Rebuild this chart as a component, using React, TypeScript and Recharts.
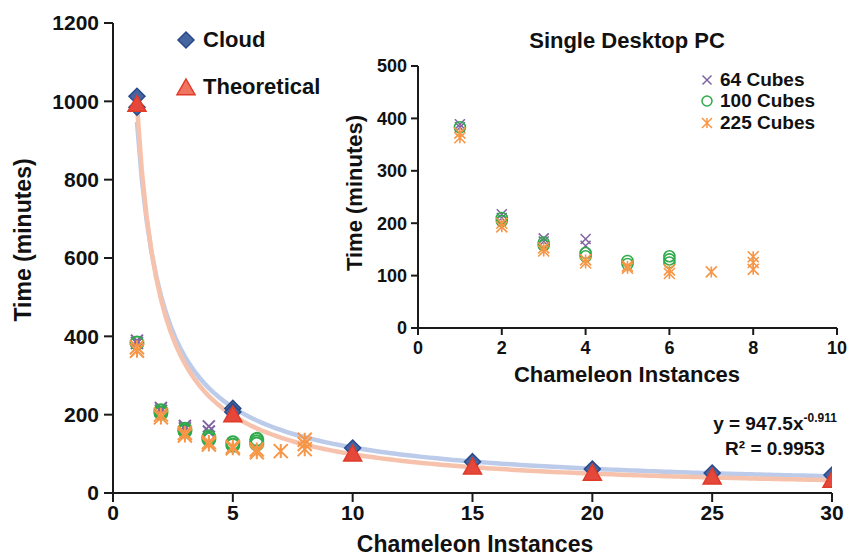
import React from "react";
import { ScatterChart, Scatter, XAxis, YAxis, Legend, Label } from "recharts";

const FONT = "'Liberation Sans', Arial, Helvetica, sans-serif";

// cloud runs (main chart)
const cloud = [
  { x: 1, y: 1013 },
  { x: 1, y: 985 },
  { x: 5, y: 216 },
  { x: 5, y: 207 },
  { x: 10, y: 115 },
  { x: 15, y: 80 },
  { x: 20, y: 61 },
  { x: 25, y: 51 },
  { x: 30, y: 46 },
];
const theoretical = [
  { x: 1, y: 992 },
  { x: 5, y: 199 },
  { x: 10, y: 99 },
  { x: 15, y: 66 },
  { x: 20, y: 50 },
  { x: 25, y: 40 },
  { x: 30, y: 32 },
];
// power trendlines, coefficients as printed on the chart
const cloudFit = { a: 947.5, b: -0.911 };
const theoreticalFit = { a: 990, b: -1 };

// single desktop PC runs
const cubes64 = [
  { x: 1, y: 389 },
  { x: 1, y: 383 },
  { x: 2, y: 217 },
  { x: 2, y: 210 },
  { x: 3, y: 171 },
  { x: 3, y: 165 },
  { x: 4, y: 170 },
  { x: 4, y: 157 },
];
const cubes100 = [
  { x: 1, y: 383 },
  { x: 2, y: 210 },
  { x: 2, y: 204 },
  { x: 3, y: 163 },
  { x: 3, y: 158 },
  { x: 4, y: 143 },
  { x: 4, y: 137 },
  { x: 5, y: 128 },
  { x: 5, y: 122 },
  { x: 6, y: 137 },
  { x: 6, y: 131 },
  { x: 6, y: 125 },
];
const cubes225 = [
  { x: 1, y: 372 },
  { x: 1, y: 363 },
  { x: 2, y: 200 },
  { x: 2, y: 193 },
  { x: 3, y: 153 },
  { x: 3, y: 147 },
  { x: 4, y: 130 },
  { x: 4, y: 124 },
  { x: 5, y: 118 },
  { x: 5, y: 114 },
  { x: 6, y: 111 },
  { x: 6, y: 104 },
  { x: 7, y: 107 },
  { x: 8, y: 136 },
  { x: 8, y: 125 },
  { x: 8, y: 112 },
];

const mainXTicks = [0, 5, 10, 15, 20, 25, 30];
const mainYTicks = [0, 200, 400, 600, 800, 1000, 1200];
const insetXTicks = [0, 2, 4, 6, 8, 10];
const insetYTicks = [0, 100, 200, 300, 400, 500];
const insetOrder = ["64 Cubes", "100 Cubes", "225 Cubes"];

function fitCurve(fit: { a: number; b: number }) {
  const pts = [];
  for (let i = 0; i <= 145; i++) {
    const x = 1 + i * 0.2;
    pts.push({ x, y: fit.a * Math.pow(x, fit.b) });
  }
  return pts;
}

const PURPLE = "#8064A2";
const GREEN = "#2EAA4A";
const ORANGE = "#F79646";
const AXIS = "#1a1a1a";

const Diamond = ({ cx, cy, r = 8 }: any) => (
  <path
    d={`M${cx},${cy - r}L${cx + r},${cy}L${cx},${cy + r}L${cx - r},${cy}Z`}
    fill="#46649F"
    stroke="#284A8A"
    strokeWidth={1.5}
  />
);
const Triangle = ({ cx, cy, r = 9, fill = "#E5483A" }: any) => (
  <path
    d={`M${cx},${cy - r}L${cx + r},${cy + r * 0.75}L${cx - r},${cy + r * 0.75}Z`}
    fill={fill}
    stroke="#E03A28"
    strokeWidth={1.5}
  />
);
const Cross = ({ cx, cy, r = 6, w = 2 }: any) => (
  <path
    d={`M${cx - r},${cy - r}L${cx + r},${cy + r}M${cx - r},${cy + r}L${cx + r},${cy - r}`}
    stroke={PURPLE}
    strokeWidth={w}
    fill="none"
  />
);
const Ring = ({ cx, cy, r = 6.5, w = 2 }: any) => (
  <circle cx={cx} cy={cy} r={r} stroke={GREEN} strokeWidth={w} fill="none" />
);
const Star = ({ cx, cy, r = 7, w = 2 }: any) => (
  <path
    d={`M${cx - r},${cy - r}L${cx + r},${cy + r}M${cx - r},${cy + r}L${cx + r},${cy - r}M${cx},${cy - r}L${cx},${cy + r}`}
    stroke={ORANGE}
    strokeWidth={w}
    fill="none"
  />
);

const AxisTitle = ({ x, y, angle, size, text }: any) => (
  <text
    x={x}
    y={y}
    transform={angle ? `rotate(${angle} ${x} ${y})` : undefined}
    textAnchor="middle"
    dominantBaseline="central"
    fontSize={size}
    fontWeight={700}
    fill="#111"
    fontFamily={FONT}
  >
    {text}
  </text>
);

const mainLegend = (props: any) => {
  const items = (props.payload || []).filter(
    (e: any) => e.value === "Cloud" || e.value === "Theoretical"
  );
  return (
    <div style={{ fontFamily: FONT }}>
      {items.map((e: any) => (
        <div key={e.value} style={{ display: "flex", alignItems: "center", height: 47 }}>
          <svg width={22} height={22}>
            {e.value === "Cloud" ? (
              <Diamond cx={11} cy={11} r={8} />
            ) : (
              <Triangle cx={11} cy={12} r={9} fill="#F07560" />
            )}
          </svg>
          <span style={{ marginLeft: 6, fontSize: 22, fontWeight: 700, color: "#111" }}>
            {e.value}
          </span>
        </div>
      ))}
    </div>
  );
};

const insetLegend = (props: any) => {
  const items = [...(props.payload || [])].sort(
    (a: any, b: any) => insetOrder.indexOf(a.value) - insetOrder.indexOf(b.value)
  );
  return (
    <div style={{ fontFamily: FONT }}>
      {items.map((e: any) => (
        <div key={e.value} style={{ display: "flex", alignItems: "center", height: 21.5 }}>
          <svg width={14} height={14}>
            {e.value === "64 Cubes" && <Cross cx={7} cy={7} r={4.5} w={1.5} />}
            {e.value === "100 Cubes" && <Ring cx={7} cy={7} r={5} w={1.5} />}
            {e.value === "225 Cubes" && <Star cx={7} cy={7} r={5} w={1.5} />}
          </svg>
          <span style={{ marginLeft: 6, fontSize: 19, fontWeight: 700, color: "#111" }}>
            {e.value}
          </span>
        </div>
      ))}
    </div>
  );
};

const tickStyle = (size: number) => ({
  fontSize: size,
  fontWeight: 700,
  fill: "#111",
  fontFamily: FONT,
});

export default function App() {
  const cloudLine = fitCurve(cloudFit);
  const theoLine = fitCurve(theoreticalFit);
  return (
    <div
      style={{
        position: "absolute",
        left: 0,
        top: 0,
        width: 849,
        height: 556,
        background: "#fff",
        fontFamily: FONT,
      }}
    >
      {/* main chart */}
      <div style={{ position: "absolute", left: 0, top: 0 }}>
        <ScatterChart width={849} height={556} margin={{ top: 23, right: 17, left: 0, bottom: 0 }}>
          <XAxis
            type="number"
            dataKey="x"
            domain={[0, 30]}
            ticks={mainXTicks}
            interval={0}
            allowDataOverflow
            height={63}
            tickSize={9}
            tickMargin={3}
            tick={tickStyle(21)}
            axisLine={{ stroke: AXIS, strokeWidth: 2 }}
            tickLine={{ stroke: AXIS, strokeWidth: 2 }}
          >
            <Label
              content={() => (
                <AxisTitle x={475} y={544} size={23} text="Chameleon Instances" />
              )}
            />
          </XAxis>
          <YAxis
            type="number"
            dataKey="y"
            domain={[0, 1200]}
            ticks={mainYTicks}
            interval={0}
            allowDataOverflow
            width={113}
            tickSize={9}
            tickMargin={5}
            tick={tickStyle(21)}
            axisLine={{ stroke: AXIS, strokeWidth: 2 }}
            tickLine={{ stroke: AXIS, strokeWidth: 2 }}
          >
            <Label
              content={() => (
                <AxisTitle x={23} y={240} angle={-90} size={23} text="Time (minutes)" />
              )}
            />
          </YAxis>
          <Legend
            layout="vertical"
            align="center"
            verticalAlign="middle"
            content={mainLegend}
            wrapperStyle={{ left: 175, top: 16, width: 180 }}
          />
          <Scatter
            name="Cloud fit"
            legendType="none"
            data={cloudLine}
            line={{ stroke: "#BCCBEA", strokeWidth: 4.5 }}
            shape={() => <g />}
            isAnimationActive={false}
          />
          <Scatter
            name="Theoretical fit"
            legendType="none"
            data={theoLine}
            line={{ stroke: "#F6C2AC", strokeWidth: 4.5 }}
            shape={() => <g />}
            isAnimationActive={false}
          />
          <Scatter
            name="64 Cubes"
            legendType="none"
            data={cubes64}
            shape={(p: any) => <Cross cx={p.cx} cy={p.cy} />}
            isAnimationActive={false}
          />
          <Scatter
            name="100 Cubes"
            legendType="none"
            data={cubes100}
            shape={(p: any) => <Ring cx={p.cx} cy={p.cy} />}
            isAnimationActive={false}
          />
          <Scatter
            name="225 Cubes"
            legendType="none"
            data={cubes225}
            shape={(p: any) => <Star cx={p.cx} cy={p.cy} />}
            isAnimationActive={false}
          />
          <Scatter
            name="Cloud"
            data={cloud}
            fill="#46649F"
            shape={(p: any) => <Diamond cx={p.cx} cy={p.cy} />}
            isAnimationActive={false}
          />
          <Scatter
            name="Theoretical"
            data={theoretical}
            fill="#E5483A"
            shape={(p: any) => <Triangle cx={p.cx} cy={p.cy} />}
            isAnimationActive={false}
          />
        </ScatterChart>
      </div>

      {/* inset: single desktop PC */}
      <div style={{ position: "absolute", left: 0, top: 0 }}>
        <ScatterChart width={849} height={556} margin={{ top: 66, right: 12, left: 340, bottom: 0 }}>
          <XAxis
            type="number"
            dataKey="x"
            domain={[0, 10]}
            ticks={insetXTicks}
            interval={0}
            height={228}
            tickSize={7}
            tickMargin={6}
            tick={tickStyle(18)}
            axisLine={{ stroke: AXIS, strokeWidth: 2 }}
            tickLine={{ stroke: AXIS, strokeWidth: 2 }}
          >
            <Label
              content={() => (
                <AxisTitle x={627} y={374} size={22} text="Chameleon Instances" />
              )}
            />
          </XAxis>
          <YAxis
            type="number"
            dataKey="y"
            domain={[0, 500]}
            ticks={insetYTicks}
            interval={0}
            width={78}
            tickSize={7}
            tickMargin={4}
            tick={tickStyle(18)}
            axisLine={{ stroke: AXIS, strokeWidth: 2 }}
            tickLine={{ stroke: AXIS, strokeWidth: 2 }}
          >
            <Label
              content={() => (
                <AxisTitle x={354} y={193} angle={-90} size={22} text="Time (minutes)" />
              )}
            />
          </YAxis>
          <Legend
            layout="vertical"
            align="center"
            verticalAlign="middle"
            content={insetLegend}
            wrapperStyle={{ left: 700, top: 69, width: 140 }}
          />
          <Scatter
            name="64 Cubes"
            data={cubes64}
            fill={PURPLE}
            shape={(p: any) => <Cross cx={p.cx} cy={p.cy} r={5} w={1.5} />}
            isAnimationActive={false}
          />
          <Scatter
            name="100 Cubes"
            data={cubes100}
            fill={GREEN}
            shape={(p: any) => <Ring cx={p.cx} cy={p.cy} r={5.5} w={1.6} />}
            isAnimationActive={false}
          />
          <Scatter
            name="225 Cubes"
            data={cubes225}
            fill={ORANGE}
            shape={(p: any) => <Star cx={p.cx} cy={p.cy} r={5.5} w={1.6} />}
            isAnimationActive={false}
          />
        </ScatterChart>
      </div>

      {/* title and trendline equation */}
      <svg
        width={849}
        height={556}
        style={{ position: "absolute", left: 0, top: 0, pointerEvents: "none" }}
      >
        <text x={627} y={48} textAnchor="middle" fontSize={22} fontWeight={700} fill="#111" fontFamily={FONT}>
          Single Desktop PC
        </text>
        <text x={775} y={430} textAnchor="middle" fontSize={19} fontWeight={700} fill="#111" fontFamily={FONT}>
          y = 947.5x
          <tspan fontSize={12} dy={-8}>
            -0.911
          </tspan>
        </text>
        <text x={775} y={455} textAnchor="middle" fontSize={19} fontWeight={700} fill="#111" fontFamily={FONT}>
          R² = 0.9953
        </text>
      </svg>
    </div>
  );
}
